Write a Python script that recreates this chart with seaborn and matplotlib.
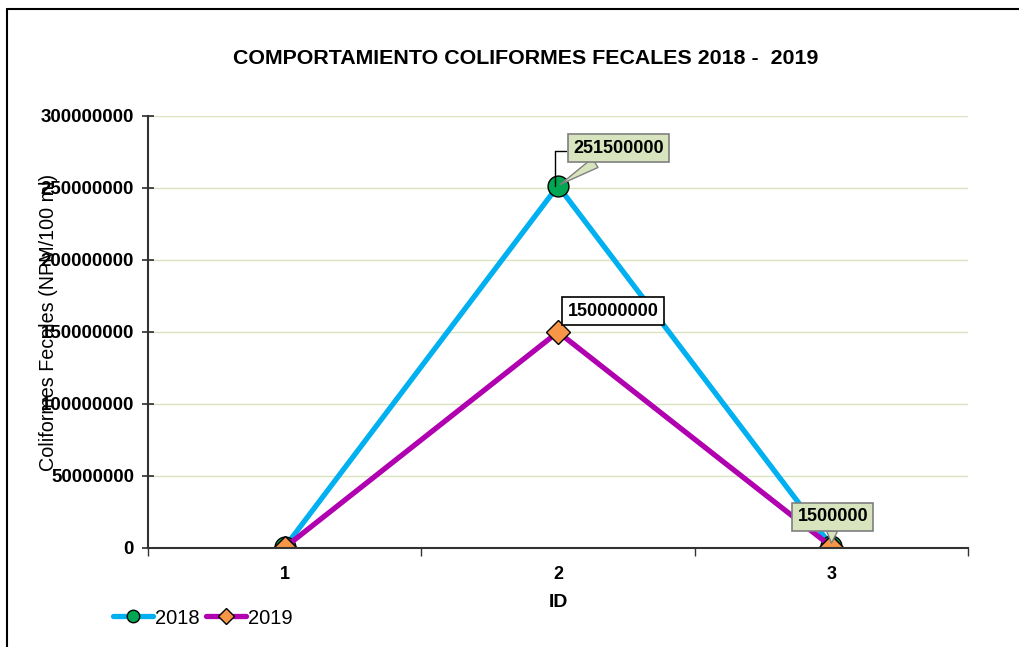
import matplotlib
matplotlib.use("Agg")
import matplotlib.pyplot as plt
from matplotlib.lines import Line2D
import seaborn as sns
import pandas as pd

ids = [1, 2, 3]
series_names = ["2018", "2019"]
vals_2018 = [500000, 251500000, 1500000]
vals_2019 = [300000, 150000000, 1000000]
yticks = [0, 50000000, 100000000, 150000000, 200000000, 250000000, 300000000]
title = "COMPORTAMIENTO COLIFORMES FECALES 2018 -  2019"
ylabel = "Coliformes Fecales (NPM/100 ml)"
xlabel = "ID"

df = pd.DataFrame({
    "ID": ids * 2,
    "valor": vals_2018 + vals_2019,
    "serie": [series_names[0]] * 3 + [series_names[1]] * 3,
})

sns.set_theme(style="white")
plt.rcParams["font.family"] = ["Liberation Sans", "DejaVu Sans"]
plt.rcParams["text.color"] = "black"

fig = plt.figure(figsize=(10.19, 6.47), dpi=100)
ax = fig.add_axes([148 / 1019, 1 - 548 / 647, 820 / 1019, 432 / 647])

colors = {"2018": "#00B0F0", "2019": "#B000B0"}
mk = {"2018": dict(marker="o", markerfacecolor="#00A651", markersize=15),
      "2019": dict(marker="D", markerfacecolor="#F79646", markersize=12)}

for s in series_names:
    sub = df[df["serie"] == s]
    sns.lineplot(data=sub, x="ID", y="valor", ax=ax, color=colors[s], linewidth=3.8,
                 markeredgecolor="black", markeredgewidth=1.0, legend=False, **mk[s])

ax.set_xlim(0.5, 3.5)
ax.set_ylim(0, 300000000)
ax.set_yticks(yticks)
ax.set_yticklabels([str(v) for v in yticks], fontsize=13.5, fontweight="bold", color="black")
ax.set_xticks(ids)
ax.set_xticklabels([str(i) for i in ids], fontsize=13, fontweight="bold", color="black")
ax.set_xticks([0.5, 1.5, 2.5, 3.5], minor=True)
ax.tick_params(axis="x", which="major", length=0, pad=13)
ax.tick_params(axis="x", which="minor", length=6, direction="out", color="#333333", bottom=True)
ax.tick_params(axis="y", which="major", length=8, direction="inout", color="#333333", left=True, pad=6)
ax.yaxis.grid(True, color="#D7E4BD", linewidth=1.0)
ax.xaxis.grid(False)
for side in ["top", "right"]:
    ax.spines[side].set_visible(False)
for side in ["left", "bottom"]:
    ax.spines[side].set_color("#333333")
    ax.spines[side].set_linewidth(1.5)

ax.set_xlabel(xlabel, fontsize=14, fontweight="bold", labelpad=8, color="black")
ax.set_ylabel(ylabel, fontsize=14.2, color="black")
ax.yaxis.set_label_coords(-0.11, 0.522)

fig.text(526 / 1019, 1 - 58 / 647, title, ha="center", va="center", fontsize=15.4,
         fontweight="bold", color="black")

# data labels
green_box = dict(boxstyle="square,pad=0.3", fc="#D7E4BD", ec="#7F7F7F", lw=1.2)
white_box = dict(boxstyle="square,pad=0.3", fc="white", ec="black", lw=1.2)
ax.annotate(str(vals_2018[1]), xy=(ids[1], vals_2018[1]), xytext=(11, 27), textcoords="offset points",
            fontsize=13, fontweight="bold", ha="left", va="center", bbox=green_box, zorder=5,
            arrowprops=dict(arrowstyle="wedge,tail_width=0.6", fc="#D7E4BD", ec="#7F7F7F",
                            shrinkA=0, shrinkB=2))
ax.plot([ids[1] - 0.01, ids[1] - 0.01], [vals_2018[1], 276000000], color="black", lw=1, zorder=4)
ax.plot([ids[1] - 0.01, ids[1] + 0.03], [276000000, 276000000], color="black", lw=1, zorder=4)
ax.annotate(str(vals_2019[1]), xy=(ids[1], vals_2019[1]), xytext=(7, 15), textcoords="offset points",
            fontsize=13, fontweight="bold", ha="left", va="center", bbox=white_box, zorder=5)
ax.annotate(str(vals_2018[2]), xy=(ids[2], vals_2018[2]), xytext=(1, 21), textcoords="offset points",
            fontsize=13, fontweight="bold", ha="center", va="center", bbox=green_box, zorder=5,
            arrowprops=dict(arrowstyle="wedge,tail_width=0.6", fc="#D7E4BD", ec="#7F7F7F",
                            shrinkA=0, shrinkB=2))

handles = [
    Line2D([], [], color=colors["2018"], lw=3.8, marker="o", markerfacecolor="#00A651",
           markeredgecolor="black", markersize=9, label="2018"),
    Line2D([], [], color=colors["2019"], lw=3.8, marker="D", markerfacecolor="#F79646",
           markeredgecolor="black", markersize=8, label="2019"),
]
fig.legend(handles=handles, loc="center left", bbox_to_anchor=(113 / 1019, 1 - 618 / 647),
           ncol=2, frameon=False, fontsize=14.5, handlelength=2.0, handletextpad=0.1,
           columnspacing=0.3, borderaxespad=0, borderpad=0)

# outer frame (left & top)
fig.add_artist(Line2D([7 / 1019, 7 / 1019], [0, 1 - 9 / 647], color="black", lw=1.5,
                      transform=fig.transFigure))
fig.add_artist(Line2D([7 / 1019, 1], [1 - 9 / 647, 1 - 9 / 647], color="black", lw=1.5,
                      transform=fig.transFigure))

fig.savefig("out.png", dpi=100)
